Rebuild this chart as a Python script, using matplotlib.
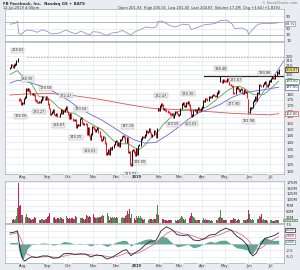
import matplotlib
matplotlib.use("Agg")
import matplotlib.pyplot as plt
import numpy as np

W, H = 300, 270

# daily closes, 16-Jul-2018 .. 12-Jul-2019
closes = [
    207.50, 209.99, 209.36, 208.09, 209.94, 210.91, 214.67, 217.50, 176.26, 174.89, 171.06, 172.58,
    171.65, 176.37, 177.78, 185.69, 183.81, 185.18, 183.09, 180.26, 180.05, 181.11, 179.53, 174.70,
    173.80, 172.50, 172.62, 173.64, 172.90, 174.65, 177.46, 176.26, 175.90, 177.64, 175.73,
    171.16, 167.18, 162.53, 163.04, 164.18, 165.94, 162.00, 161.36, 162.32, 160.58, 160.30, 163.06,
    166.02, 162.93, 165.41, 164.91, 166.95, 168.84, 164.46,
    162.44, 159.33, 162.43, 158.85, 157.33, 157.25, 157.90, 151.38, 153.35, 153.74, 153.52, 158.78,
    159.42, 154.92, 154.05, 154.78, 154.39, 146.04, 150.95, 145.37, 142.09, 146.22, 151.79,
    151.75, 150.35, 148.68, 149.94, 151.53, 147.87, 144.96, 141.55, 142.16, 144.22, 143.85, 139.53,
    131.55, 132.43, 134.82, 131.73, 136.38, 135.00, 136.76, 138.68, 140.61,
    141.09, 137.93, 139.63, 137.42, 141.85, 142.08, 144.50, 145.01, 144.06, 140.19, 143.66, 133.24,
    133.40, 124.95, 124.06, 134.18, 134.52, 133.20, 131.09,
    135.68, 131.74, 137.95, 138.05, 142.53, 144.23, 144.20, 143.80, 145.39, 148.95, 147.54, 148.30,
    150.04, 147.57, 144.30, 145.83, 149.01, 147.47, 144.19, 150.42, 166.69,
    165.71, 169.25, 171.16, 170.49, 166.38, 167.33, 165.79, 165.04, 164.07, 163.95, 162.50, 162.29,
    162.56, 160.04, 161.89, 164.62, 164.13, 162.81, 161.45,
    162.28, 167.37, 171.26, 172.51, 169.13, 169.60, 172.07, 171.92, 173.37, 170.17, 165.98, 160.47,
    161.57, 165.44, 166.08, 164.34, 166.29, 167.68, 165.87, 165.55, 166.69,
    168.70, 174.20, 173.54, 176.02, 175.72, 174.93, 177.58, 177.82, 177.51, 179.10, 179.65, 178.87,
    178.78, 178.28, 181.44, 183.78, 182.58, 193.26, 191.49, 194.78, 193.40,
    193.03, 192.53, 195.47, 193.88, 189.77, 189.54, 188.65, 188.34, 181.54, 180.73, 186.27, 186.99,
    185.30, 182.72, 184.82, 185.32, 180.87, 181.06, 184.31, 182.19, 183.01, 177.47,
    164.15, 167.50, 168.17, 168.33, 173.35, 174.82, 178.10, 175.04, 181.61, 181.33, 189.01, 188.47,
    187.48, 189.53, 191.14, 192.60, 188.84, 187.66, 189.50, 193.00,
    193.00, 195.50, 197.20, 196.40, 195.76, 199.21, 202.73, 201.23, 204.87,
]
first_open = 207.0
gap_opens = {8: 174.89, 137: 165.8, 195: 196.98, 221: 175.0}

# volume, millions
volumes = [
    20, 16, 15, 16, 14, 19, 28, 65, 170, 71, 77, 36,
    34, 30, 25, 38, 26, 22, 20, 19, 15, 17, 18, 25, 23, 18, 16, 14, 14, 18, 17, 15, 14, 19, 16,
    25, 31, 42, 23, 20, 21, 24, 19, 18, 20, 22, 18, 25, 20, 18, 17, 22, 28, 21,
    19, 22, 18, 22, 21, 17, 16, 32, 26, 22, 18, 23, 22, 20, 18, 15, 18, 34, 29, 27, 28, 26, 61,
    40, 24, 20, 20, 24, 20, 24, 26, 30, 33, 28, 34, 39, 44, 31, 13, 26, 21, 24, 20, 25,
    20, 24, 23, 21, 25, 22, 26, 22, 23, 30, 35, 51, 37, 62, 22, 39, 31, 23, 15,
    28, 22, 29, 22, 29, 22, 17, 15, 17, 26, 19, 15, 17, 19, 18, 14, 18, 18, 16, 38, 77,
    34, 25, 27, 16, 18, 15, 12, 13, 10, 11, 15, 12, 11, 10, 12, 15, 10, 12, 12,
    16, 20, 28, 24, 18, 15, 18, 19, 24, 22, 32, 41, 31, 25, 21, 14, 12, 14, 12, 15, 13,
    13, 21, 15, 17, 13, 11, 13, 13, 10, 12, 10, 11, 12, 11, 11, 20, 27, 54, 22, 20, 15,
    15, 13, 13, 13, 14, 12, 13, 12, 23, 17, 16, 10, 13, 16, 12, 11, 19, 12, 13, 11, 11, 17,
    56, 37, 19, 14, 16, 15, 15, 13, 18, 16, 32, 24, 38, 14, 19, 15, 15, 12, 10, 11,
    14, 13, 8, 9, 10, 11, 12, 13, 12,
]

# moving averages (trading-day index, value)
ma20_idx = [0, 7, 10, 15, 20, 27, 34, 40, 45, 53, 60, 65, 70, 76, 80, 85, 90, 95, 100, 105, 110,
            113, 116, 120, 125, 130, 135, 138, 142, 147, 152, 157, 162, 167, 172, 177, 182, 187,
            192, 197, 202, 207, 212, 217, 221, 225, 230, 235, 240, 245, 249]
ma20 = [200, 204, 200, 195.7, 190, 177.9, 177.5, 173, 168, 164, 163, 160, 157, 154, 152, 150, 146,
        142, 139, 139, 139, 137.5, 136, 135, 138, 143, 146, 149, 154, 158, 163, 165, 166, 167, 166,
        166.5, 168.5, 172, 176, 180, 184, 187, 188, 186, 183, 180, 179.5, 180, 184, 189, 193]
ma50_idx = [0, 7, 15, 25, 35, 45, 55, 65, 76, 85, 95, 105, 115, 125, 135, 145, 155, 165, 175, 185,
            195, 205, 215, 225, 235, 249]
ma50 = [191, 194, 192.5, 189.5, 186, 180, 174, 167, 161.5, 157.5, 152, 146.5, 142, 139.5, 140, 145,
        151, 158, 163.5, 167, 171, 177, 181, 183, 184.5, 187]
ma200_idx = [0, 15, 37, 55, 83, 105, 130, 160, 185, 207, 241, 249]
ma200 = [179.5, 180.5, 181, 179.5, 175.5, 171.5, 167.6, 166, 164.5, 163, 161.8, 162.8]

rsi_idx = [0, 4, 7, 8, 10, 15, 20, 25, 30, 35, 38, 45, 52, 55, 61, 66, 71, 74, 77, 83, 89, 95, 100,
           104, 110, 112, 115, 120, 126, 132, 136, 137, 141, 148, 153, 160, 166, 168, 175, 180, 190,
           195, 201, 206, 208, 215, 220, 221, 225, 230, 236, 240, 245, 249]
rsi = [64, 66, 73, 36, 31, 45, 44, 38, 46, 40, 33, 35, 45, 40, 33, 42, 33, 30, 40, 38, 28, 36, 38,
       44, 33, 29, 38, 46, 55, 52, 56, 73, 74, 60, 55, 64, 62, 47, 55, 62, 66, 76, 77, 64, 50, 52, 44,
       31, 48, 64, 67, 66, 67, 69]

macd_idx = [0, 4, 7, 8, 10, 12, 14, 16, 20, 25, 30, 35, 40, 45, 50, 55, 60, 65, 70, 75, 80, 85, 90,
            95, 100, 105, 108, 112, 115, 120, 125, 130, 135, 137, 140, 145, 150, 155, 160, 165, 170,
            175, 180, 185, 190, 195, 200, 205, 210, 215, 220, 222, 225, 228, 232, 236, 240, 245, 249]
macd = [4.2, 4.5, 5.0, 1.6, -3.1, -5.9, -6.6, -5.8, -5.0, -5.2, -4.6, -4.6, -5.5, -5.3, -3.8, -3.6,
        -4.0, -3.8, -3.9, -5.0, -4.2, -4.5, -5.8, -5.0, -3.8, -2.5, -2.2, -4.5, -3.6, -2.4, -0.5, 1.0,
        1.2, 2.5, 5.0, 6.5, 5.5, 3.5, 3.2, 3.4, 1.5, 1.2, 2.0, 3.4, 3.6, 5.0, 6.0, 5.2, 3.0, 1.6,
        -0.5, -3.0, -4.6, -3.6, -0.5, 2.0, 2.6, 3.2, 4.2]
signal = [3.6, 4.0, 4.3, 3.8, 2.0, -0.2, -2.6, -3.9, -4.8, -5.1, -5.0, -4.8, -5.0, -5.2, -4.7, -4.2,
          -4.0, -4.0, -3.9, -4.2, -4.4, -4.4, -4.8, -5.1, -4.7, -3.9, -3.4, -3.6, -3.8, -3.3, -2.2,
          -1.0, 0.2, 0.7, 2.0, 4.0, 5.0, 4.6, 3.9, 3.6, 3.0, 2.2, 1.8, 2.4, 3.0, 3.6, 4.6, 5.2, 4.5,
          3.4, 1.8, 0.8, -0.9, -2.0, -1.8, -0.6, 0.8, 1.9, 2.8]

month_idx = [12, 35, 54, 77, 98, 117, 138, 157, 178, 199, 221, 241]
month_lbl = ["Aug", "Sep", "Oct", "Nov", "Dec", "2019", "Feb", "Mar", "Apr", "May", "Jun", "Jul"]

# price labels on peaks / troughs: (index, price, above?)
pl_idx = [7, 16, 10, 33, 27, 45, 52, 61, 66, 74, 112, 109, 120, 140, 151, 165, 168, 195, 209, 207, 221, 236]
pl_price = [218.62, 188.30, 166.56, 179.58, 170.27, 158.87, 172.47, 149.25, 160.54, 139.03, 123.02,
            147.19, 131.0, 172.47, 159.59, 174.30, 160.03, 198.48, 187.67, 177.90, 161.98, 193.86]
pl_up = [1, 1, 0, 1, 0, 0, 1, 0, 1, 0, 0, 1, 0, 1, 0, 1, 0, 1, 1, 0, 0, 1]

resist = 198.48
prior_high = 218.62

C_BG = "#e9ecf0"
C_GRID = "#e6e8ec"
C_SPINE = "#a8acb2"
C_TXT = "#333333"
FS = 2.9


def panel(fig, top, bottom):
    ax = fig.add_axes([5 / W, 1 - bottom / H, 279 / W, (bottom - top) / H])
    ax.set_facecolor("white")
    for s in ax.spines.values():
        s.set_color(C_SPINE)
        s.set_linewidth(0.5)
    ax.set_xlim(-4.6, 253.9)
    ax.set_xticks(month_idx)
    ax.xaxis.grid(True, color=C_GRID, lw=0.5)
    ax.yaxis.grid(True, color=C_GRID, lw=0.5)
    ax.set_axisbelow(True)
    ax.tick_params(axis="x", length=0, labelbottom=False)
    ax.yaxis.tick_right()
    ax.tick_params(axis="y", length=0, pad=1.5, labelsize=FS, labelcolor=C_TXT)
    return ax


def value_box(ax, y, text, edge, face="white", fs=2.6, dx=1.0):
    ax.annotate(text, xy=(1.0, y), xycoords=("axes fraction", "data"), xytext=(dx, 0),
                textcoords="offset points", fontsize=fs, va="center", ha="left", color=C_TXT,
                bbox=dict(boxstyle="square,pad=0.12", fc=face, ec=edge, lw=0.5),
                annotation_clip=False, zorder=5)


def month_labels(ax):
    for i, lbl in zip(month_idx, month_lbl):
        ax.annotate(lbl, xy=(i, 0), xycoords=("data", "axes fraction"), xytext=(0, -2.2),
                    textcoords="offset points", ha="center", va="center", fontsize=2.6,
                    color=C_TXT, weight="bold" if lbl == "2019" else "normal",
                    bbox=dict(boxstyle="square,pad=0.2", fc="#e2e4e8", ec="none"))


def generate():
    fig = plt.figure(figsize=(W / 100, H / 100), dpi=100)
    fig.patch.set_facecolor(C_BG)
    n = len(closes)
    x = np.arange(n)
    c = np.array(closes)
    prev = np.r_[first_open, c[:-1]]
    opens = prev.copy()
    for k, v in gap_opens.items():
        opens[k] = v
    down = c < prev

    # header
    fig.text(3 / W, 1 - 3.5 / H, "FB Facebook, Inc.  Nasdaq GS + BATS", fontsize=2.8,
             weight="bold", color=C_TXT, va="center")
    fig.text(3 / W, 1 - 7.5 / H, "12-Jul-2019 4:00pm", fontsize=2.6, color=C_TXT, va="center")
    fig.text(297 / W, 1 - 3.5 / H, "\u00a9 StockCharts.com", fontsize=2.5, color="#777777",
             va="center", ha="right")
    fig.text(118 / W, 1 - 7.5 / H,
             "Open 201.93  High 205.01  Low 201.40  Last 204.87  Volume 17.2M  Chg +3.64 (+1.81%)",
             fontsize=2.6, color=C_TXT, va="center")

    # RSI
    ax_r = panel(fig, 9, 41)
    ax_r.set_ylim(18.6, 112.9)
    ax_r.set_yticks([90, 70, 50, 30, 10])
    ax_r.axhline(70, color="#9a9ea4", lw=0.5)
    ax_r.axhline(30, color="#9a9ea4", lw=0.5)
    ax_r.plot(rsi_idx, rsi, color="#9595cf", lw=0.6)
    value_box(ax_r, rsi[-1] - 3, "68.92", "#9595cf", fs=2.4)

    # price
    ax_p = panel(fig, 42, 174)
    ax_p.set_yscale("log")
    ax_p.set_ylim(118.7, 236.9)
    ticks = list(range(120, 225, 5))
    ax_p.set_yticks(ticks)
    ax_p.set_yticklabels([str(t) for t in ticks])
    ax_p.minorticks_off()
    ax_p.axhline(prior_high, xmin=0.08, color="#888888", lw=0.5, ls=(0, (2, 2)))
    ax_p.plot([180, 253.9], [resist, resist], color="#222222", lw=0.9)
    ax_p.plot([221, 253.9], [161.98, 215], color="#4f6ee0", lw=0.5)
    ax_p.plot(ma200_idx, ma200, color="#e05555", lw=0.6)
    ax_p.plot(ma50_idx, ma50, color="#6868d8", lw=0.6)
    ax_p.plot(ma20_idx, ma20, color="#55a055", lw=0.6)
    lo = np.minimum(opens, c)
    hi = np.maximum(opens, c)
    cols = np.where(down, "#e8202a", "#111111")
    ax_p.vlines(x, lo * 0.996, hi * 1.004, colors=cols, lw=0.75)
    for i, p, up in zip(pl_idx, pl_price, pl_up):
        ax_p.annotate(f"{p:.2f}", xy=(i, p), xytext=(0, 3.5 if up else -3.5),
                      textcoords="offset points", ha="center", va="bottom" if up else "top",
                      fontsize=2.5, color=C_TXT,
                      bbox=dict(boxstyle="square,pad=0.15", fc="#eeeeee", ec="#aaaaaa", lw=0.3))
    value_box(ax_p, closes[-1], f"{closes[-1]:.2f}", "#222222", "#f3e27a")
    value_box(ax_p, ma20[-1], f"{ma20[-1]:.2f}", "#55a055")
    value_box(ax_p, ma50[-1], f"{ma50[-1]:.2f}", "#6868d8")
    value_box(ax_p, ma200[-1], f"{ma200[-1]:.2f}", "#e05555")
    month_labels(ax_p)

    # volume
    ax_v = panel(fig, 181, 223)
    vcol = np.where(down, "#c3265b", "#4d8f4d")
    ax_v.bar(x, volumes, width=0.8, color=vcol, lw=0)
    ax_v.set_ylim(0, 180)
    ax_v.set_yticks([25, 50, 75, 100, 125, 150, 175])
    ax_v.set_yticklabels(["25M", "50M", "75M", "100M", "125M", "150M", "175M"])
    value_box(ax_v, volumes[-1], "12,221,825", "#4d8f4d", fs=1.75, dx=-0.5)

    # MACD
    ax_m = panel(fig, 224, 263)
    ax_m.set_ylim(-7.3, 7.6)
    ax_m.set_yticks([7.5, 5.0, 2.5, 0.0, -2.5, -5.0])
    ax_m.set_yticklabels(["7.5", "5.0", "2.5", "0.0", "-2.5", "-5.0"])
    hist = np.array(macd) - np.array(signal)
    ax_m.fill_between(macd_idx, 0, hist, color="#4e9e8c", lw=0, alpha=0.9)
    ax_m.plot(macd_idx, signal, color="#e07090", lw=0.6)
    ax_m.plot(macd_idx, macd, color="#222222", lw=0.6)
    value_box(ax_m, 5.3, f"{macd[-1]:.3f}", "#222222", fs=2.2)
    value_box(ax_m, 3.0, f"{signal[-1]:.3f}", "#e07090", fs=2.2)
    value_box(ax_m, 0.7, f"{hist[-1]:.3f}", "#4e9e8c", fs=2.2)
    month_labels(ax_m)

    fig.savefig("out.png", dpi=100, facecolor=fig.get_facecolor())


if __name__ == '__main__':
    generate()
